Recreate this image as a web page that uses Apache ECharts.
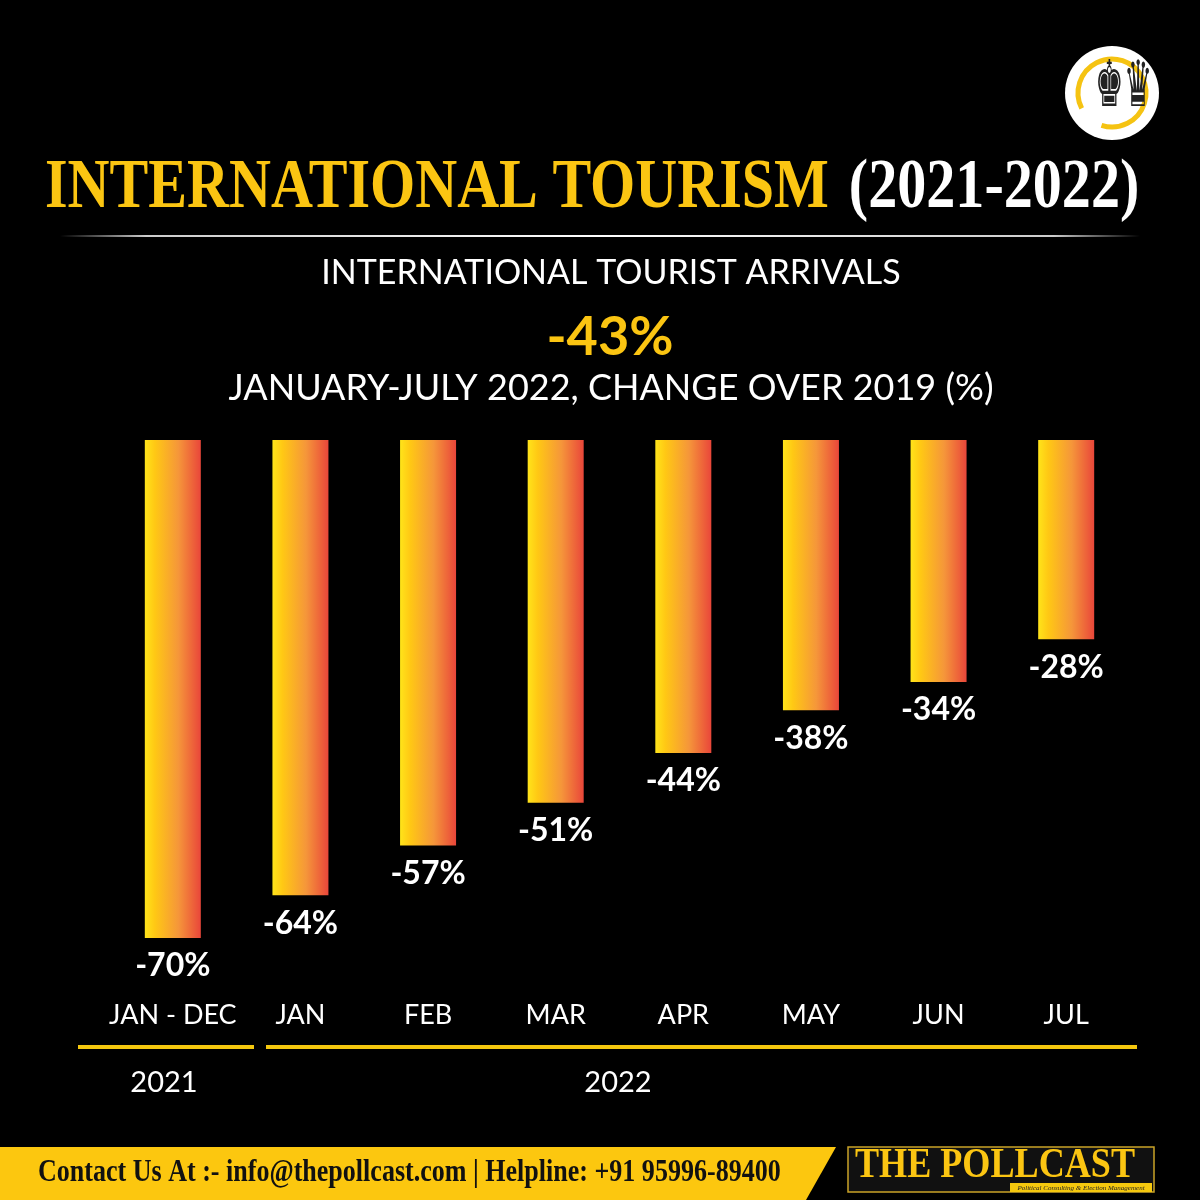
<!DOCTYPE html>
<html><head><meta charset="utf-8">
<script src="https://cdn.jsdelivr.net/npm/echarts@6/dist/echarts.min.js"></script>
<style>html,body{margin:0;padding:0;background:#000}#c{width:1200px;height:1200px}</style>
</head><body><div id="c"></div>
<script>
const categories = ['JAN - DEC','JAN','FEB','MAR','APR','MAY','JUN','JUL'];
const changeValues = [-70,-64,-57,-51,-44,-38,-34,-28];
const yearLabels = ['2021','2022'];
const titleMain = 'INTERNATIONAL TOURISM';
const titleYears = '(2021-2022)';
const subtitle1 = 'INTERNATIONAL TOURIST ARRIVALS';
const headline = '-43%';
const subtitle2 = 'JANUARY-JULY 2022, CHANGE OVER 2019 (%)';
const footerText = 'Contact Us At :- info@thepollcast.com | Helpline: +91 95996-89400';

const GOLD = '#FBC512';
const chart = echarts.init(document.getElementById('c'));
const barGrad = new echarts.graphic.LinearGradient(0,0,1,0,[
  {offset:0,color:'#FFE41A'},{offset:0.18,color:'#FFC814'},
  {offset:0.6,color:'#F5963A'},{offset:1,color:'#E9463A'}]);
chart.setOption({
  backgroundColor:'#000',
  animation:false,
  grid:{left:109,right:70,top:440,bottom:262},
  xAxis:{type:'category',data:categories,position:'bottom',
    axisLine:{show:false},axisTick:{show:false},
    axisLabel:{interval:0,color:'#fff',fontFamily:'Lato',fontSize:27,margin:64}},
  yAxis:{type:'value',min:-70,max:0,show:false,splitLine:{show:false}},
  series:[{type:'bar',data:changeValues,barWidth:56,
    itemStyle:{color:barGrad},
    label:{show:true,position:'bottom',distance:12,color:'#fff',fontFamily:'Lato',fontWeight:'bold',fontSize:32,
      formatter:p=>p.value+'%'}}],
  graphic:[
    {type:'text',x:45,y:154,scaleX:0.83,style:{text:'{a|'+titleMain+'}{s| }{b|'+titleYears+'}',
      rich:{a:{fill:GOLD,font:'bold 70px "Liberation Serif"'},s:{width:24,font:'bold 70px "Liberation Serif"'},b:{fill:'#fff',font:'bold 70px "Liberation Serif"'}}}},
    {type:'rect',shape:{x:60,y:235,width:1080,height:2},style:{fill:new echarts.graphic.LinearGradient(0,0,1,0,[
      {offset:0,color:'rgba(255,255,255,0)'},{offset:0.08,color:'rgba(255,255,255,0.8)'},{offset:0.5,color:'#fff'},
      {offset:0.92,color:'rgba(255,255,255,0.8)'},{offset:1,color:'rgba(255,255,255,0)'}])}},
    {type:'text',x:611,y:273,style:{text:subtitle1,fill:'#fff',font:'34px Lato',align:'center',verticalAlign:'middle'}},
    {type:'text',x:610,y:338,style:{text:headline,fill:GOLD,font:'bold 54px Lato',align:'center',verticalAlign:'middle'}},
    {type:'text',x:611,y:388,style:{text:subtitle2,fill:'#fff',font:'36px Lato',align:'center',verticalAlign:'middle'}},
    {type:'rect',shape:{x:78,y:1045,width:176,height:4},style:{fill:'#F5C80E'}},
    {type:'rect',shape:{x:266,y:1045,width:871,height:4},style:{fill:'#F5C80E'}},
    {type:'text',x:164,y:1083,style:{text:yearLabels[0],fill:'#fff',font:'29px Lato',align:'center',verticalAlign:'middle'}},
    {type:'text',x:618,y:1083,style:{text:yearLabels[1],fill:'#fff',font:'29px Lato',align:'center',verticalAlign:'middle'}},
    // footer
    {type:'polygon',shape:{points:[[0,1147],[836,1147],[806,1200],[0,1200]]},style:{fill:'#FCC70F'}},
    {type:'text',x:38,y:1173,scaleX:0.84,style:{text:footerText,fill:'#111',font:'bold 31px "Liberation Serif"',verticalAlign:'middle'}},
    {type:'rect',shape:{x:848,y:1147,width:306,height:45},style:{fill:'#111',stroke:'#C9A227',lineWidth:1.5}},
    {type:'text',x:855,y:1166,scaleX:0.86,style:{text:'THE POLLCAST',fill:GOLD,font:'bold 42px "Liberation Serif"',verticalAlign:'middle'}},
    {type:'rect',shape:{x:1010,y:1183,width:142,height:9},style:{fill:'#F5C80E'}},
    {type:'text',x:1081,y:1188,style:{text:'Political Consulting & Election Management',fill:'#222',font:'italic 7px "Liberation Serif"',align:'center',verticalAlign:'middle'}},
    // logo
    {type:'circle',shape:{cx:1112,cy:93,r:47},style:{fill:'#fff'}},
    {type:'arc',shape:{cx:1112,cy:93,r:34,startAngle:Math.PI*0.85,endAngle:Math.PI*2.6},style:{stroke:'#F5C312',lineWidth:5,fill:null}},
    {type:'text',x:1095,y:89,scaleX:0.5,style:{text:'♚♛',fill:'#222',font:'64px "DejaVu Sans"',verticalAlign:'middle'}}
  ]
});
</script></body></html>
